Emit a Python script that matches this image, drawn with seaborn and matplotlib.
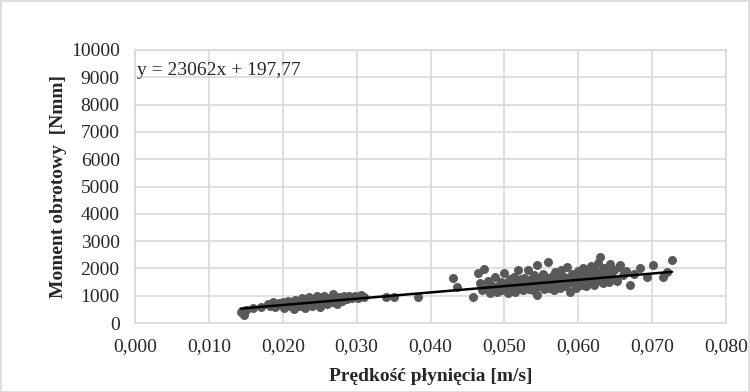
import pandas as pd
import seaborn as sns
import matplotlib.pyplot as plt
import matplotlib.ticker as mticker
from matplotlib.patches import Rectangle

# Data: flow speed [m/s] vs torque [Nmm]
speed_low = [0.0143, 0.0147, 0.0150, 0.0160, 0.0170, 0.0180, 0.0183, 0.0187, 0.0190, 0.0195,
             0.0198, 0.0200, 0.0202, 0.0205, 0.0207, 0.0210, 0.0212, 0.0215, 0.0217, 0.0220,
             0.0222, 0.0224, 0.0226, 0.0228, 0.0230, 0.0232, 0.0234, 0.0236, 0.0238, 0.0240,
             0.0242, 0.0244, 0.0246, 0.0248, 0.0250, 0.0252, 0.0254, 0.0256, 0.0258, 0.0260,
             0.0263, 0.0266, 0.0268, 0.0270, 0.0273, 0.0276, 0.0280, 0.0283, 0.0287, 0.0290,
             0.0294, 0.0298, 0.0302, 0.0306, 0.0310, 0.0340, 0.0350, 0.0383]
torque_low = [420, 300, 480, 560, 600, 700, 640, 760, 590, 720,
              650, 780, 560, 700, 820, 640, 740, 520, 860, 700,
              780, 620, 900, 740, 560, 820, 680, 940, 760, 620,
              860, 720, 980, 800, 600, 900, 760, 1000, 840, 700,
              920, 780, 1050, 860, 700, 940, 820, 980, 880, 1000,
              920, 980, 900, 1020, 960, 960, 940, 960]

speed_high = [0.0430, 0.0436, 0.0458, 0.0464, 0.0467, 0.0470, 0.0473, 0.0476, 0.0478, 0.0480,
              0.0482, 0.0485, 0.0487, 0.0490, 0.0492, 0.0495, 0.0497, 0.0500, 0.0501, 0.0503,
              0.0505, 0.0507, 0.0509, 0.0511, 0.0513, 0.0515, 0.0517, 0.0519, 0.0521, 0.0523,
              0.0525, 0.0527, 0.0529, 0.0531, 0.0532, 0.0534, 0.0536, 0.0538, 0.0540, 0.0542,
              0.0544, 0.0544, 0.0546, 0.0548, 0.0550, 0.0552, 0.0554, 0.0556, 0.0558, 0.0559,
              0.0561, 0.0563, 0.0565, 0.0567, 0.0569, 0.0571, 0.0573, 0.0575, 0.0577, 0.0579,
              0.0581, 0.0583, 0.0585, 0.0587, 0.0589, 0.0591, 0.0593, 0.0595, 0.0597, 0.0599,
              0.0601, 0.0603, 0.0605, 0.0607, 0.0609, 0.0611, 0.0613, 0.0615, 0.0617, 0.0619,
              0.0621, 0.0623, 0.0625, 0.0627, 0.0629, 0.0631, 0.0633, 0.0635, 0.0637, 0.0639,
              0.0641, 0.0643, 0.0646, 0.0649, 0.0652, 0.0655, 0.0657, 0.0660, 0.0665, 0.0670,
              0.0675, 0.0683, 0.0693, 0.0701, 0.0715, 0.0720, 0.0727,
              0.0502, 0.0506, 0.0510, 0.0514, 0.0518, 0.0522, 0.0526, 0.0530, 0.0535, 0.0539,
              0.0543, 0.0547, 0.0551, 0.0555, 0.0560, 0.0564, 0.0568, 0.0572, 0.0576, 0.0580,
              0.0584, 0.0588, 0.0592, 0.0596, 0.0600, 0.0604, 0.0608, 0.0612, 0.0616, 0.0620,
              0.0624, 0.0628, 0.0632, 0.0636, 0.0640]
torque_high = [1660, 1320, 960, 1830, 1460, 1200, 1980, 1300, 1550, 1100,
               1400, 1250, 1700, 1150, 1350, 1500, 1200, 1840, 1300, 1450,
               1100, 1600, 1250, 1380, 1700, 1150, 1500, 1950, 1300, 1420,
               1200, 1650, 1350, 1500, 1940, 1250, 1600, 1400, 1750, 1300,
               2120, 1030, 1500, 1650, 1350, 1800, 1250, 1550, 1420, 2240,
               1300, 1700, 1500, 1200, 1850, 1400, 1600, 1300, 1950, 1500,
               1700, 1350, 2050, 1550, 1150, 1800, 1450, 1650, 1300, 1900,
               1550, 1750, 1400, 2000, 1600, 1350, 1850, 1500, 2100, 1650,
               1400, 1900, 1550, 2200, 2430, 1700, 1450, 2000, 1600, 1850,
               1500, 2150, 1700, 1950, 1550, 2050, 2120, 1750, 1900, 1390,
               1800, 2010, 1700, 2120, 1700, 1880, 2310,
               1200, 1550, 1320, 1450, 1250, 1600, 1380, 1280, 1480, 1200,
               1580, 1350, 1450, 1700, 1600, 1380, 1550, 1750, 1450, 1350,
               1650, 1500, 1600, 1750, 1400, 1650, 1500, 1700, 1800, 1550,
               1700, 1600, 1900, 1750, 1650]

# Linear trend reported on the chart
slope = 23062
intercept = 197.77

df = pd.DataFrame({"speed": speed_low + speed_high, "torque": torque_low + torque_high})
trend = pd.DataFrame({"speed": [df["speed"].min(), df["speed"].max()]})
trend["torque"] = slope * trend["speed"] + intercept

sns.set_theme(style="whitegrid")
plt.rcParams["font.family"] = ["Liberation Serif", "DejaVu Serif"]

grid_col = "#d9d9d9"
fig = plt.figure(figsize=(7.5, 3.92), dpi=100)
ax = fig.add_axes([135 / 750, 1 - 323 / 392, 591 / 750, 273 / 392])

sns.scatterplot(data=df, x="speed", y="torque", ax=ax, color="#595959",
                s=42, linewidth=0, zorder=3)
sns.lineplot(data=trend, x="speed", y="torque", ax=ax, color="black",
             linewidth=1.8, zorder=4)

ax.set_xlim(0, 0.08)
ax.set_ylim(0, 10000)
ax.xaxis.set_major_locator(mticker.MultipleLocator(0.01))
ax.yaxis.set_major_locator(mticker.MultipleLocator(1000))
ax.xaxis.set_major_formatter(mticker.FuncFormatter(lambda v, p: f"{v:.3f}".replace(".", ",")))
ax.yaxis.set_major_formatter(mticker.FuncFormatter(lambda v, p: f"{v:.0f}"))

ax.grid(True, color=grid_col, linewidth=1.2)
for sp in ax.spines.values():
    sp.set_color(grid_col)
    sp.set_linewidth(1.2)
ax.tick_params(axis="both", length=0, labelsize=14, colors="#262626")
ax.tick_params(axis="x", pad=11)
ax.tick_params(axis="y", pad=11)

ax.set_xlabel("Prędkość płynięcia [m/s]", fontsize=14, fontweight="bold", labelpad=9)
ax.set_ylabel("Moment obrotowy  [Nmm]", fontsize=14, fontweight="bold", labelpad=3)

ax.text(0.004, 0.925, "y = 23062x + 197,77", transform=ax.transAxes,
        fontsize=14, va="center", ha="left", color="#262626")

fig.patches.append(Rectangle((0.001, 0.001), 0.998, 0.997, transform=fig.transFigure,
                             fill=False, edgecolor=grid_col, linewidth=1.2))

fig.savefig("out.png", dpi=100)
